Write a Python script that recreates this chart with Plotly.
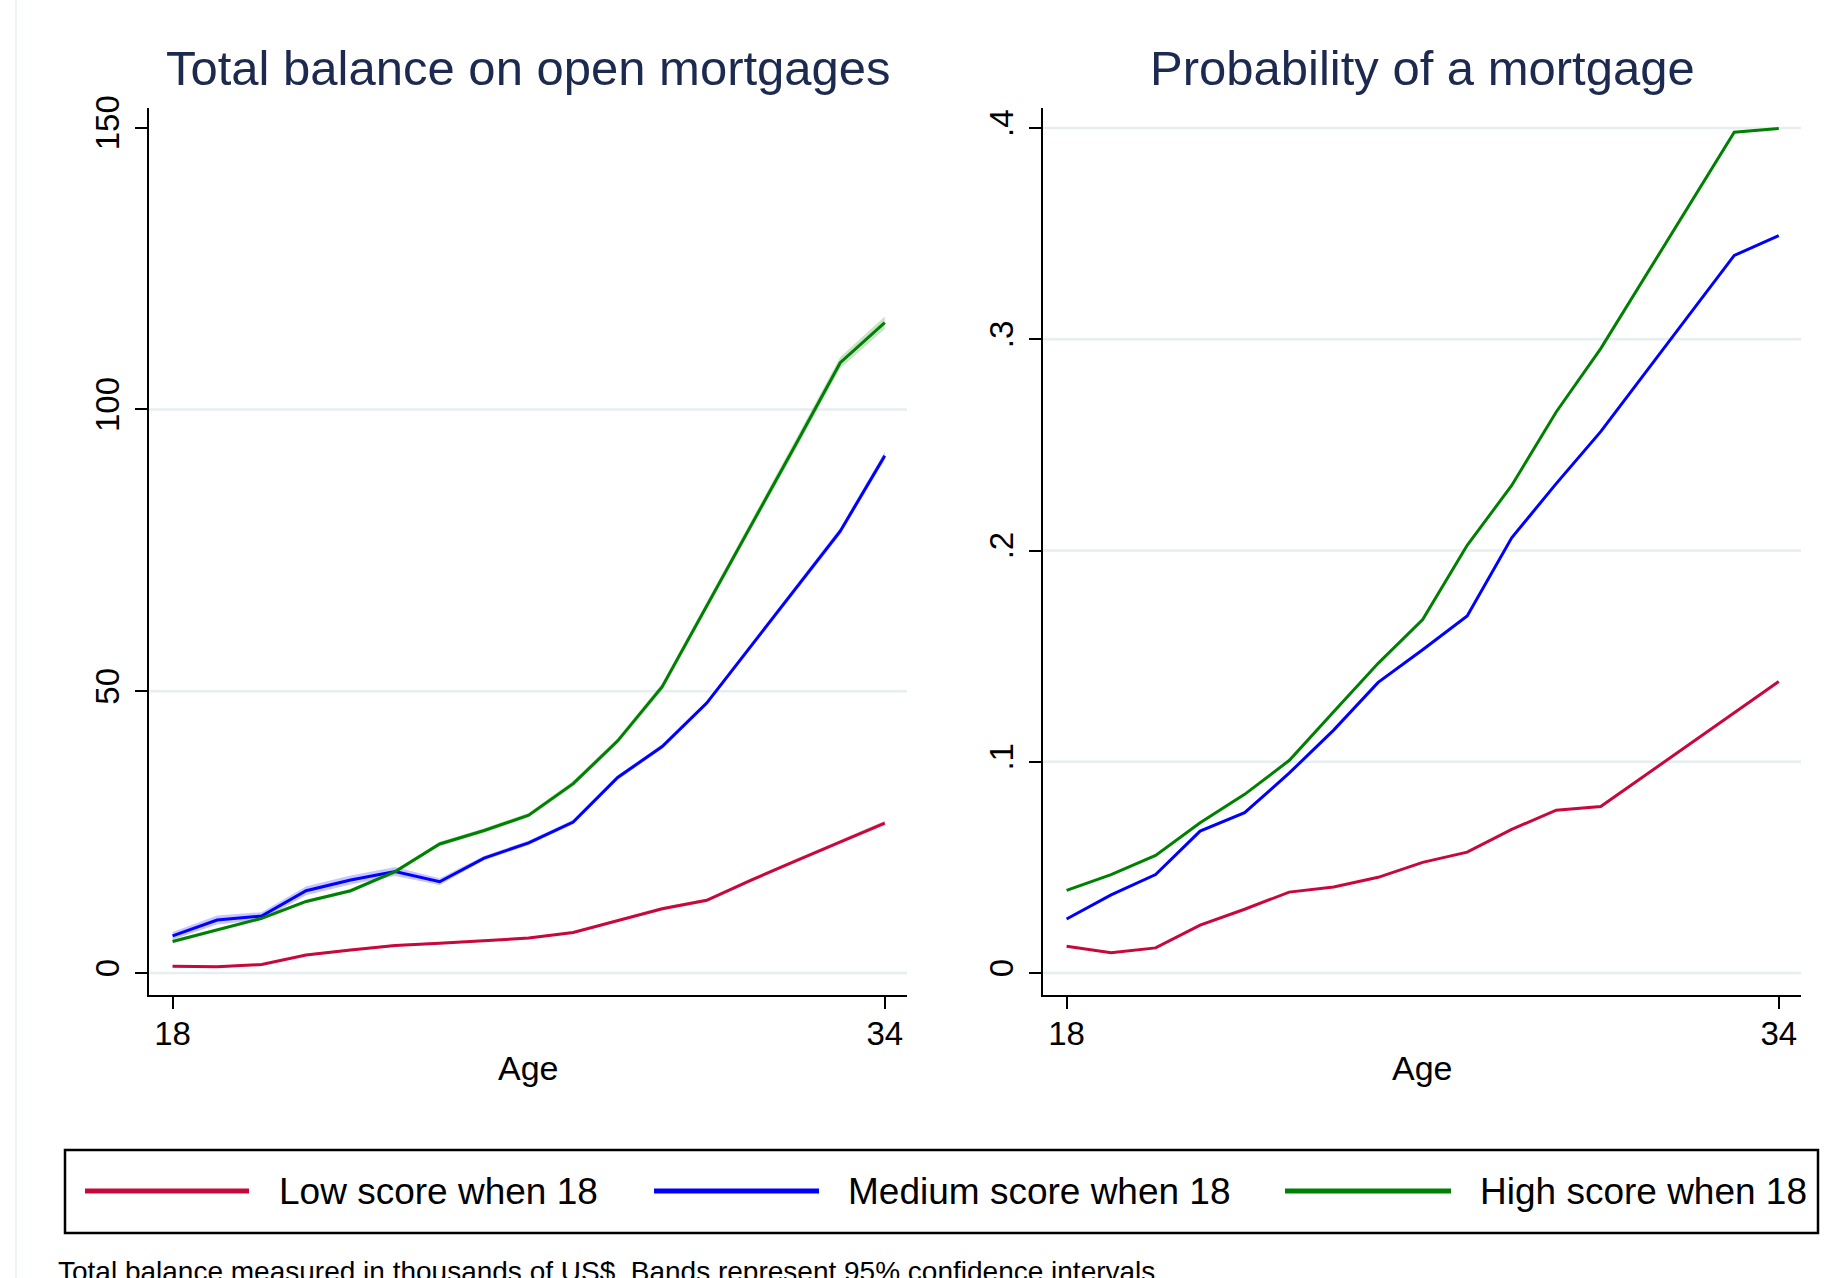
import plotly.graph_objects as go

# ---------------- data ----------------
ages = [18, 19, 20, 21, 22, 23, 24, 25, 26, 27, 28, 29, 30, 31, 32, 33, 34]

series_names = ["Low score when 18", "Medium score when 18", "High score when 18"]
series_colors = ["#c8083c", "#0000ff", "#008000"]
band_colors = ["rgba(200,8,60,0.22)", "rgba(0,0,255,0.22)", "rgba(0,128,0,0.22)"]

balance_low = [1.2, 1.1, 1.5, 3.2, 4.1, 4.9, 5.3, 5.7, 6.2, 7.2, 9.3, 11.4, 12.9, 16.5, 19.9, 23.3, 26.6]
balance_med = [6.6, 9.4, 10.1, 14.6, 16.5, 18.0, 16.2, 20.4, 23.1, 26.8, 34.7, 40.2, 47.9, 58.1, 68.2, 78.4, 91.8]
balance_high = [5.6, 7.6, 9.7, 12.7, 14.6, 18.0, 22.9, 25.3, 28.0, 33.6, 41.2, 50.8, 65.1, 79.6, 93.8, 108.3, 115.4]

# half-widths of the 95% confidence bands (thousands US$)
balance_low_ci = [0.2, 0.2, 0.2, 0.2, 0.2, 0.2, 0.2, 0.2, 0.2, 0.2, 0.2, 0.3, 0.3, 0.3, 0.3, 0.3, 0.4]
balance_med_ci = [0.7, 0.8, 0.7, 0.8, 0.8, 0.8, 0.6, 0.4, 0.4, 0.4, 0.4, 0.4, 0.4, 0.5, 0.5, 0.6, 0.7]
balance_high_ci = [0.3, 0.3, 0.3, 0.3, 0.3, 0.3, 0.4, 0.4, 0.4, 0.5, 0.5, 0.6, 0.7, 0.8, 0.9, 1.0, 1.1]

prob_low = [0.0127, 0.0096, 0.0119, 0.0227, 0.0302, 0.0383, 0.0407, 0.0453, 0.0524, 0.0572,
            0.0680, 0.0771, 0.0788, 0.0936, 0.1080, 0.1230, 0.1380]
prob_med = [0.0256, 0.0370, 0.0466, 0.0672, 0.0759, 0.0946, 0.1150, 0.1376, 0.1530, 0.1690,
            0.2060, 0.2317, 0.2563, 0.2841, 0.3119, 0.3397, 0.3491]
prob_high = [0.0391, 0.0466, 0.0557, 0.0711, 0.0846, 0.1006, 0.1237, 0.1466, 0.1673, 0.2025,
             0.2308, 0.2656, 0.2956, 0.3297, 0.3638, 0.3980, 0.3998]

x_ticks = [18, 34]
left_y_ticks = [0, 50, 100, 150]
left_y_labels = ["0", "50", "100", "150"]
left_grid = [0, 50, 100]
right_y_ticks = [0, 0.1, 0.2, 0.3, 0.4]
right_y_labels = ["0", ".1", ".2", ".3", ".4"]
right_grid = [0, 0.1, 0.2, 0.3, 0.4]

titles = ["Total balance on open mortgages", "Probability of a mortgage"]
x_title = "Age"
note = "Total balance measured in thousands of US$. Bands represent 95% confidence intervals."

# ---------------- figure ----------------
W, H = 1842, 1278
FONT = "Liberation Sans, Arial, Helvetica, sans-serif"
TITLE_COLOR = "#1c2a4f"

fig = go.Figure()

# confidence bands (left panel)
for vals, ci, bc in zip([balance_low, balance_med, balance_high],
                        [balance_low_ci, balance_med_ci, balance_high_ci], band_colors):
    upper = [v + c for v, c in zip(vals, ci)]
    lower = [v - c for v, c in zip(vals, ci)]
    fig.add_trace(go.Scatter(x=ages + ages[::-1], y=upper + lower[::-1], fill="toself",
                             fillcolor=bc, line=dict(width=0), mode="lines",
                             hoverinfo="skip", showlegend=False, xaxis="x", yaxis="y"))

# lines
for vals, name, col in zip([balance_low, balance_med, balance_high], series_names, series_colors):
    fig.add_trace(go.Scatter(x=ages, y=vals, mode="lines", name=name,
                             line=dict(color=col, width=3), showlegend=False,
                             xaxis="x", yaxis="y"))
for vals, name, col in zip([prob_low, prob_med, prob_high], series_names, series_colors):
    fig.add_trace(go.Scatter(x=ages, y=vals, mode="lines", name=name,
                             line=dict(color=col, width=3), showlegend=False,
                             xaxis="x2", yaxis="y2"))

# pixel helpers for layout (paper coords, margins are zero)
def px(xp):
    return xp / W

def py(yp):
    return 1 - yp / H

left_dom = [px(149), px(907)]
right_dom = [px(1043), px(1801)]
y_dom = [py(995), py(108)]

xaxis_common = dict(range=[17.47, 34.5], tickvals=x_ticks, ticks="outside", ticklen=12,
                    tickwidth=2, tickcolor="black", showline=True, linewidth=2,
                    linecolor="black", showgrid=False, zeroline=False, automargin=False,
                    ticklabelstandoff=-4,
                    tickfont=dict(family=FONT, size=33, color="black"))
yaxis_common = dict(ticks="outside", ticklen=12, tickwidth=2, tickcolor="black",
                    showline=True, linewidth=2, linecolor="black", showgrid=False,
                    zeroline=False, tickangle=-90, automargin=False,
                    tickfont=dict(family=FONT, size=33, color="black"))

fig.update_layout(
    width=W, height=H,
    margin=dict(l=0, r=0, t=0, b=0, autoexpand=False),
    paper_bgcolor="white", plot_bgcolor="white",
    showlegend=False,
    xaxis=dict(domain=left_dom, anchor="y", **xaxis_common),
    yaxis=dict(domain=y_dom, anchor="x", range=[-3.9, 153.5], tickvals=left_y_ticks,
               ticktext=left_y_labels, ticklabelstandoff=3, **yaxis_common),
    xaxis2=dict(domain=right_dom, anchor="y2", **xaxis_common),
    yaxis2=dict(domain=y_dom, anchor="x2", range=[-0.0104, 0.4095], tickvals=right_y_ticks,
                ticktext=right_y_labels, ticklabelstandoff=3, **yaxis_common),
)

shapes = []
# gridlines
for g in left_grid:
    shapes.append(dict(type="line", xref="x domain", yref="y", x0=0, x1=1, y0=g, y1=g,
                       line=dict(color="#e6eef0", width=2.5), layer="below"))
for g in right_grid:
    shapes.append(dict(type="line", xref="x2 domain", yref="y2", x0=0, x1=1, y0=g, y1=g,
                       line=dict(color="#e6eef0", width=2.5), layer="below"))
# faint outer border on the left
shapes.append(dict(type="line", xref="paper", yref="paper", x0=px(16), x1=px(16), y0=0, y1=1,
                   line=dict(color="#eef3f5", width=2)))

# legend box
shapes.append(dict(type="rect", xref="paper", yref="paper", x0=px(65), x1=px(1818),
                   y0=py(1233), y1=py(1150), line=dict(color="black", width=2.5),
                   fillcolor="rgba(0,0,0,0)"))
legend_line_x = [(85, 249), (654, 819), (1285, 1451)]
legend_text_x = [277, 846, 1478]
legend_y = 1191
annotations = []
for (a, b), tx, col, name in zip(legend_line_x, legend_text_x, series_colors, series_names):
    shapes.append(dict(type="line", xref="paper", yref="paper", x0=px(a), x1=px(b),
                       y0=py(legend_y), y1=py(legend_y), line=dict(color=col, width=5)))
    annotations.append(dict(text=name, xref="paper", yref="paper", x=px(tx), y=py(legend_y),
                            xanchor="left", yanchor="middle", showarrow=False,
                            font=dict(family=FONT, size=37, color="black")))

# titles
annotations.append(dict(text=titles[0], xref="paper", yref="paper", x=px(528), y=py(68),
                        xanchor="center", yanchor="middle", showarrow=False,
                        font=dict(family=FONT, size=49, color=TITLE_COLOR)))
annotations.append(dict(text=titles[1], xref="paper", yref="paper", x=px(1422), y=py(68),
                        xanchor="center", yanchor="middle", showarrow=False,
                        font=dict(family=FONT, size=49, color=TITLE_COLOR)))
# axis titles
for xc in (528, 1422):
    annotations.append(dict(text=x_title, xref="paper", yref="paper", x=px(xc), y=py(1068),
                            xanchor="center", yanchor="middle", showarrow=False,
                            font=dict(family=FONT, size=34, color="black")))
# note
annotations.append(dict(text=note, xref="paper", yref="paper", x=px(56), y=py(1254),
                        xanchor="left", yanchor="top", showarrow=False,
                        font=dict(family=FONT, size=28, color="black")))

fig.update_layout(shapes=shapes, annotations=annotations)

fig.write_html("out.html")
